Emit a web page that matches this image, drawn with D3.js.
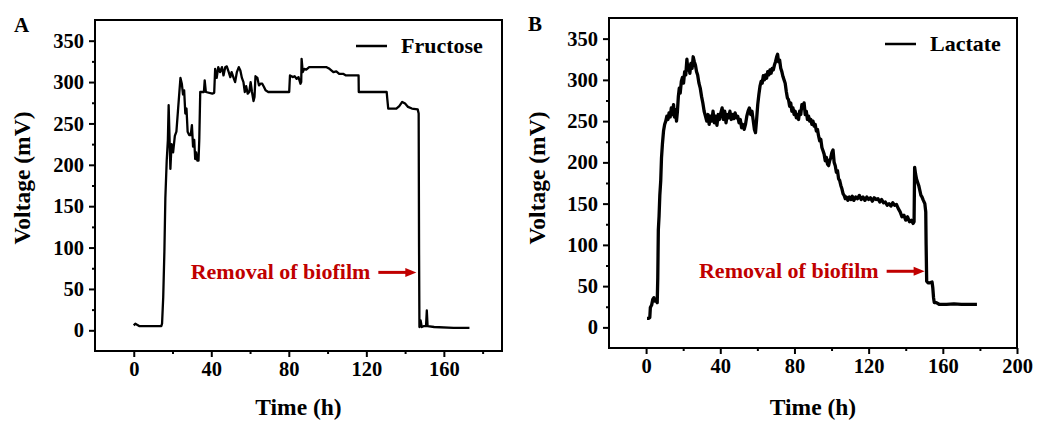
<!DOCTYPE html>
<html>
<head>
<meta charset="utf-8">
<script src="https://cdnjs.cloudflare.com/ajax/libs/d3/7.8.5/d3.min.js"></script>
<style>
  body { margin: 0; background: #fff; }
  svg { display: block; font-family: "Liberation Serif", "Times New Roman", serif; font-weight: bold; }
</style>
</head>
<body>
<svg id="chart" width="1037" height="421"></svg>
<script>
// ---- data ----
const fructoseTime = [0, 0.8, 1.5, 3, 8, 14.2, 14.6, 15.2, 15.8, 16.3, 17.0, 17.6, 18.0, 18.6, 18.9, 19.5, 20.3, 21.2, 22.0, 22.8,
  23.6, 24.1, 24.8, 25.4, 26.0, 26.6, 27.2, 27.8, 28.6, 29.4, 30.0, 30.6, 31.2, 31.7, 32.2, 32.8, 33.4, 33.8, 34.3, 36.2,
  36.6, 37.2, 40.5, 41.5, 42.0, 42.8, 43.6, 44.5, 45.5, 46.3, 47.2, 48.0, 49.0, 49.8, 50.5, 51.5, 52.3, 53.2, 54.2, 55.0,
  55.8, 56.6, 57.3, 58.0, 58.8, 59.6, 60.3, 61.0, 61.8, 62.3, 62.8, 63.8, 64.6, 65.4, 66.3, 67.2, 68.0, 69.4, 80.2, 80.6,
  82.0, 83.0, 84.0, 85.0, 86.0, 86.4, 86.6, 87.2, 88.0, 89.0, 90.5, 99.5, 101.0, 103.0, 104.5, 106.0, 108.0, 109.5, 116.0, 116.1,
  130.5, 130.8, 131.3, 135.5, 137.0, 138.5, 140.0, 141.5, 143.5, 146.5, 147.0, 147.2, 147.4, 148.0, 148.6, 149.5, 150.8, 151.2, 151.6, 155,
  165, 173.2];
const fructoseVoltage = [6, 8, 7, 5, 5, 5, 8, 40, 95, 160, 205, 230, 272, 220, 195, 225, 215, 235, 240, 265,
  290, 305, 298, 285, 290, 262, 268, 240, 236, 236, 248, 222, 230, 207, 215, 205, 205, 230, 288, 288,
  302, 288, 286, 287, 316, 305, 318, 312, 318, 308, 318, 319, 312, 306, 312, 305, 300, 312, 318, 314,
  305, 300, 288, 295, 286, 288, 300, 288, 277, 282, 307, 305, 296, 298, 298, 294, 290, 288, 288, 308,
  306, 307, 304, 306, 298, 300, 328, 312, 316, 315, 318, 318, 316, 312, 313, 310, 310, 308, 308, 288,
  288, 280, 268, 268, 271, 276, 274, 270, 268, 267, 262, 100, 4, 12, 4, 5, 5, 24, 5, 4,
  3, 3];

const lactateTime = [0.5, 1.5, 2.0, 2.3, 3.0, 3.6, 4.2, 4.8, 5.4, 6.0, 6.3, 6.6, 7.0, 7.4, 7.9, 8.3, 8.8, 9.4, 10.0, 10.6,
  11.2, 11.8, 12.4, 13.0, 13.6, 14.2, 14.8, 15.3, 15.8, 16.4, 16.9, 17.4, 17.9, 18.4, 19.0, 19.6, 20.2, 20.8, 21.4, 22.0,
  22.5, 23.0, 23.6, 24.2, 24.8, 25.4, 26.0, 26.6, 27.2, 27.8, 28.5, 29.2, 29.9, 30.6, 31.3, 32.0, 32.7, 33.4, 34.0, 34.7,
  35.4, 36.1, 36.8, 37.5, 38.2, 38.9, 39.6, 40.3, 41.0, 41.7, 42.4, 43.1, 43.8, 44.5, 45.2, 45.9, 46.6, 47.3, 48.0, 48.7,
  49.4, 50.1, 50.8, 51.5, 52.2, 52.9, 53.6, 54.3, 55.0, 55.7, 56.4, 57.1, 57.8, 58.4, 59.0, 59.6, 60.2, 60.8, 61.4, 62.0,
  62.6, 63.2, 63.8, 64.4, 65.0, 65.6, 66.2, 66.8, 67.4, 68.0, 68.6, 69.2, 69.8, 70.4, 70.9, 71.4, 72.0, 72.6, 73.2, 73.8,
  74.4, 75.0, 75.6, 76.2, 76.8, 77.4, 78.0, 78.6, 79.2, 79.8, 80.4, 81.0, 81.6, 82.2, 82.8, 83.4, 84.0, 84.6, 85.2, 85.8,
  86.4, 87.0, 87.6, 88.2, 88.8, 89.4, 90.0, 90.6, 91.2, 91.8, 92.4, 93.0, 93.6, 94.2, 94.8, 95.4, 96.0, 96.6, 97.2, 97.8,
  98.4, 99.0, 99.6, 100.2, 100.8, 101.4, 102.0, 102.6, 103.2, 103.8, 104.4, 105.0, 105.6, 106.2, 106.8, 107.4, 108.0, 108.8, 109.6, 110.4,
  111.2, 112.0, 113.0, 114.0, 115.0, 116.0, 117.0, 118.0, 119.0, 120.0, 121.0, 122.0, 123.0, 124.0, 125.0, 126.0, 127.0, 128.0, 129.0, 130.0,
  131.0, 132.0, 133.0, 134.0, 135.0, 136.0, 137.0, 138.0, 139.0, 140.0, 141.0, 142.0, 143.0, 144.0, 144.5, 144.8, 145.3, 145.8, 146.4, 147.0,
  147.6, 148.2, 148.8, 149.5, 150.3, 150.8, 151.0, 151.3, 152.0, 153.0, 154.2, 154.6, 155.0, 155.4, 156.5, 158.0, 162, 166, 170, 174,
  178.4];
const lactateVoltage = [11, 11, 12, 24, 27, 34, 36, 32, 34, 30, 60, 118, 135, 160, 178, 205, 222, 238, 246, 250,
  256, 252, 260, 255, 266, 258, 270, 255, 264, 250, 262, 280, 290, 284, 298, 303, 296, 310, 306, 325,
  312, 318, 308, 320, 314, 328, 322, 318, 310, 306, 296, 290, 280, 272, 262, 256, 250, 258, 246, 256,
  250, 262, 248, 256, 245, 258, 252, 260, 266, 252, 262, 248, 258, 254, 262, 252, 258, 253, 260, 254,
  256, 248, 252, 242, 246, 240, 246, 256, 262, 266, 258, 262, 250, 240, 236, 252, 270, 282, 292, 298,
  296, 305, 300, 306, 302, 310, 306, 312, 308, 314, 312, 318, 322, 328, 331, 322, 324, 314, 310, 304,
  300, 296, 286, 278, 276, 268, 272, 262, 266, 258, 262, 254, 258, 252, 262, 258, 270, 266, 272, 258,
  262, 252, 256, 250, 252, 246, 250, 244, 246, 238, 240, 232, 226, 228, 218, 214, 210, 202, 206, 198,
  196, 202, 206, 212, 215, 200, 196, 188, 190, 180, 178, 172, 168, 162, 160, 156, 158, 154, 158, 155,
  159, 154, 158, 156, 160, 155, 158, 154, 158, 155, 157, 153, 157, 155, 156, 152, 155, 151, 152, 148,
  150, 147, 151, 148, 149, 144, 140, 134, 136, 130, 134, 128, 130, 126, 128, 194, 186, 180, 176, 172,
  166, 160, 158, 154, 150, 140, 100, 56, 54, 54, 55, 48, 36, 30, 30, 28, 28, 28.5, 28, 28,
  28];

const yTicks = [0, 50, 100, 150, 200, 250, 300, 350];
const yMinorTicks = [25, 75, 125, 175, 225, 275, 325];
const annotationLabel = 'Removal of biofilm';

const panels = [
  {
    letter: 'A', name: 'Fructose', time: fructoseTime, voltage: fructoseVoltage,
    box: { left: 95, top: 20, right: 502, bottom: 351 },
    xDomain: [-20, 190], xTicks: [0, 40, 80, 120, 160], xMinor: [20, 60, 100, 140, 180],
    arrowTip: [145.8, 70], lineWidth: 2.3,
    letterPos: [14, 32], yTitleX: 30, legendX: 356
  },
  {
    letter: 'B', name: 'Lactate', time: lactateTime, voltage: lactateVoltage,
    box: { left: 609, top: 18, right: 1017, bottom: 348 },
    xDomain: [-20, 200], xTicks: [0, 40, 80, 120, 160, 200], xMinor: [20, 60, 100, 140, 180],
    arrowTip: [150.2, 68], lineWidth: 3.3,
    letterPos: [528, 31], yTitleX: 545, legendX: 885
  }
];

const svg = d3.select('#chart');

const drawPanel = (p) => {
  const { box } = p;
  const xScale = d3.scaleLinear().domain(p.xDomain).range([box.left, box.right]);
  const yScale = d3.scaleLinear().domain([-25, 375]).range([box.bottom, box.top]);

  const g = svg.append('g').attr('class', 'panel-' + p.letter);

  // data line
  const pts = p.time.map((t, i) => ({ t, v: p.voltage[i] }));
  const line = d3.line().x(d => xScale(d.t)).y(d => yScale(d.v));
  g.append('path')
    .datum(pts)
    .attr('fill', 'none')
    .attr('stroke', '#000')
    .attr('stroke-width', p.lineWidth)
    .attr('stroke-linejoin', 'round')
    .attr('d', line);

  // axes
  const xAxis = d3.axisBottom(xScale).tickValues(p.xTicks).tickSize(6).tickSizeOuter(0).tickPadding(4);
  const xMinor = d3.axisBottom(xScale).tickValues(p.xMinor).tickSize(3).tickSizeOuter(0).tickFormat('');
  const yAxis = d3.axisLeft(yScale).tickValues(yTicks).tickSize(6).tickSizeOuter(0).tickPadding(5);
  const yMinor = d3.axisLeft(yScale).tickValues(yMinorTicks).tickSize(3).tickSizeOuter(0).tickFormat('');

  const styleAxis = sel => {
    sel.select('.domain').remove();
    sel.selectAll('line').attr('stroke', '#000').attr('stroke-width', 2);
    sel.selectAll('text')
      .attr('fill', '#000')
      .style('font-family', '"Liberation Serif", serif')
      .style('font-weight', 'bold')
      .style('font-size', '20.5px');
  };

  g.append('g').attr('transform', `translate(0,${box.bottom})`).call(xAxis).call(styleAxis);
  g.append('g').attr('transform', `translate(0,${box.bottom})`).call(xMinor).call(styleAxis);
  g.append('g').attr('transform', `translate(${box.left},0)`).call(yAxis).call(styleAxis);
  g.append('g').attr('transform', `translate(${box.left},0)`).call(yMinor).call(styleAxis);

  // frame
  g.append('rect')
    .attr('x', box.left).attr('y', box.top)
    .attr('width', box.right - box.left).attr('height', box.bottom - box.top)
    .attr('fill', 'none').attr('stroke', '#000').attr('stroke-width', 2);

  // axis titles
  g.append('text')
    .attr('x', (box.left + box.right) / 2).attr('y', 415)
    .attr('text-anchor', 'middle')
    .style('font-size', '23.5px')
    .text('Time (h)');
  g.append('text')
    .attr('transform', `translate(${p.yTitleX},178) rotate(-90)`)
    .attr('text-anchor', 'middle')
    .style('font-size', '23.5px')
    .text('Voltage (mV)');

  // panel letter
  g.append('text')
    .attr('x', p.letterPos[0]).attr('y', p.letterPos[1])
    .style('font-size', '21px')
    .text(p.letter);

  // legend
  const legendY = box.top + 26;
  g.append('line')
    .attr('x1', p.legendX).attr('x2', p.legendX + 31)
    .attr('y1', legendY).attr('y2', legendY)
    .attr('stroke', '#000').attr('stroke-width', 2.5);
  g.append('text')
    .attr('x', p.legendX + 45).attr('y', legendY + 7)
    .style('font-size', '22px')
    .text(p.name);

  // annotation arrow + label
  const red = '#c00000';
  const tipX = xScale(p.arrowTip[0]);
  const tipY = yScale(p.arrowTip[1]);
  g.append('line')
    .attr('x1', tipX - 38).attr('x2', tipX - 9)
    .attr('y1', tipY).attr('y2', tipY)
    .attr('stroke', red).attr('stroke-width', 3);
  g.append('path')
    .attr('d', `M${tipX},${tipY} L${tipX - 11},${tipY - 4.5} L${tipX - 11},${tipY + 4.5} Z`)
    .attr('fill', red);
  g.append('text')
    .attr('x', tipX - 46).attr('y', tipY + 7)
    .attr('text-anchor', 'end')
    .attr('fill', red)
    .style('font-size', '22px')
    .text(annotationLabel);
};

panels.forEach(drawPanel);
</script>
</body>
</html>
